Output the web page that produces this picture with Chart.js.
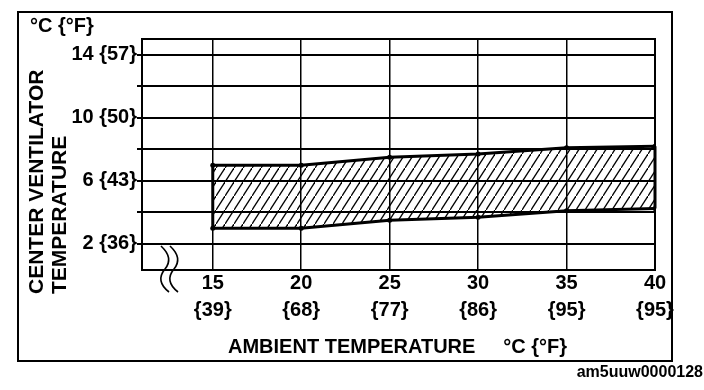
<!DOCTYPE html>
<html>
<head>
<meta charset="utf-8">
<script src="https://cdn.jsdelivr.net/npm/chart.js@4/dist/chart.umd.min.js"></script>
<style>
html,body{margin:0;padding:0;background:#fff;}
#wrap{width:704px;height:390px;}
</style>
</head>
<body>
<div id="wrap"><canvas id="c" width="704" height="390"></canvas></div>
<script>
// ---- data ----
const ambientC = [15, 20, 25, 30, 35, 40];
const ambientF = ['{39}', '{68}', '{77}', '{86}', '{95}', '{95}'];
const upperLimit = [7.0, 7.0, 7.5, 7.7, 8.1, 8.2];
const lowerLimit = [3.0, 3.0, 3.5, 3.7, 4.1, 4.25];
const yGridValues = [2, 4, 6, 8, 10, 12, 14];
const yLabelValues = [2, 6, 10, 14];
const yLabelF = ['{36}', '{43}', '{50}', '{57}'];
const unitLabel = '°C {°F}';
const xTitle = 'AMBIENT TEMPERATURE     °C {°F}';
const yTitleLines = ['CENTER VENTILATOR', 'TEMPERATURE'];
const figureId = 'am5uuw0000128';

const FONT = '"Liberation Sans", Arial, Helvetica, sans-serif';

// hatch pattern
function makeHatch() {
  const w = 9, h = 14;
  const c = document.createElement('canvas');
  c.width = w; c.height = h;
  const g = c.getContext('2d');
  g.strokeStyle = '#000';
  g.lineWidth = 1.3;
  for (const [dx, dy] of [[0, 0], [-w, h], [w, -h]]) {
    g.beginPath();
    g.moveTo(0 + dx, h + dy);
    g.lineTo(w + dx, 0 + dy);
    g.stroke();
  }
  return g.createPattern(c, 'repeat');
}

const decor = {
  id: 'decor',
  beforeDraw(chart) {
    const ctx = chart.ctx;
    ctx.save();
    ctx.fillStyle = '#fff';
    ctx.fillRect(0, 0, chart.width, chart.height);
    ctx.restore();
  },
  afterDatasetsDraw(chart) {
    const ctx = chart.ctx;
    ctx.save();
    // band vertical edges
    const lo = chart.getDatasetMeta(0).data;
    const up = chart.getDatasetMeta(1).data;
    ctx.strokeStyle = '#000';
    ctx.lineWidth = 3;
    for (const i of [0, lo.length - 1]) {
      ctx.beginPath();
      ctx.moveTo(lo[i].x, lo[i].y);
      ctx.lineTo(up[i].x, up[i].y);
      ctx.stroke();
    }
    ctx.restore();
  },
  afterDraw(chart) {
    const ctx = chart.ctx;
    const a = chart.chartArea;
    ctx.save();
    ctx.strokeStyle = '#000';
    // plot rectangle
    ctx.lineWidth = 2;
    ctx.strokeRect(a.left, a.top, a.right - a.left, a.bottom - a.top);
    // outer frame
    ctx.strokeRect(18, 12, 654, 349);
    // axis break squiggles
    ctx.lineWidth = 1.6;
    for (const x of [161, 170]) {
      ctx.beginPath();
      ctx.moveTo(x, 246);
      ctx.quadraticCurveTo(x + 13, 258, x + 4, 269);
      ctx.quadraticCurveTo(x - 6, 281, x + 8, 292);
      ctx.stroke();
    }
    // texts
    ctx.fillStyle = '#000';
    ctx.font = 'bold 20px ' + FONT;
    ctx.textBaseline = 'middle';
    ctx.textAlign = 'left';
    ctx.fillText(unitLabel, 30, 26);
    ctx.fillText(xTitle, 228, 347);
    // y title
    ctx.save();
    ctx.font = 'bold 21px ' + FONT;
    ctx.translate(37.5, 294);
    ctx.rotate(-Math.PI / 2);
    ctx.fillText(yTitleLines[0], 0, 0);
    ctx.fillText(yTitleLines[1], 0, 23);
    ctx.restore();
    // figure id
    ctx.font = 'bold 16px ' + FONT;
    ctx.textAlign = 'right';
    ctx.fillText(figureId, 703, 373);
    ctx.restore();
  }
};

const hatch = makeHatch();

new Chart(document.getElementById('c'), {
  type: 'line',
  data: {
    datasets: [
      {
        label: 'Lower limit',
        data: ambientC.map((x, i) => ({ x, y: lowerLimit[i] })),
        borderColor: '#000',
        borderWidth: 3,
        pointRadius: 2.5,
        pointBackgroundColor: '#000',
        pointBorderWidth: 0,
        fill: false,
        tension: 0
      },
      {
        label: 'Upper limit',
        data: ambientC.map((x, i) => ({ x, y: upperLimit[i] })),
        borderColor: '#000',
        borderWidth: 3,
        pointRadius: 2.5,
        pointBackgroundColor: '#000',
        pointBorderWidth: 0,
        backgroundColor: hatch,
        fill: { target: 0 },
        tension: 0
      }
    ]
  },
  options: {
    responsive: false,
    devicePixelRatio: 1,
    animation: false,
    layout: { padding: { top: 39, right: 49, left: 0, bottom: 0 } },
    plugins: {
      legend: { display: false },
      tooltip: { enabled: false },
      title: { display: false }
    },
    scales: {
      x: {
        type: 'linear',
        min: 11,
        max: 40,
        afterBuildTicks: s => { s.ticks = ambientC.map(v => ({ value: v })); },
        afterFit: s => { s.height = 120; },
        ticks: {
          color: '#000',
          font: { family: FONT, size: 20, weight: 'bold', lineHeight: 1.35 },
          padding: 0,
          maxRotation: 0,
          autoSkip: false,
          callback: (v) => {
            const i = ambientC.indexOf(v);
            return i >= 0 ? [String(v), ambientF[i]] : '';
          }
        },
        grid: { color: '#000', lineWidth: 1.5, drawTicks: false },
        border: { display: false }
      },
      y: {
        type: 'linear',
        min: 0.35,
        max: 15,
        afterBuildTicks: s => { s.ticks = yGridValues.map(v => ({ value: v })); },
        afterFit: s => { s.width = 142; },
        ticks: {
          color: '#000',
          font: { family: FONT, size: 20, weight: 'bold' },
          padding: 0,
          autoSkip: false,
          callback: (v) => {
            const i = yLabelValues.indexOf(v);
            return i >= 0 ? v + ' ' + yLabelF[i] : '';
          }
        },
        grid: { color: '#000', lineWidth: 2, tickLength: 5 },
        border: { display: false }
      }
    }
  },
  plugins: [decor]
});
</script>
</body>
</html>
